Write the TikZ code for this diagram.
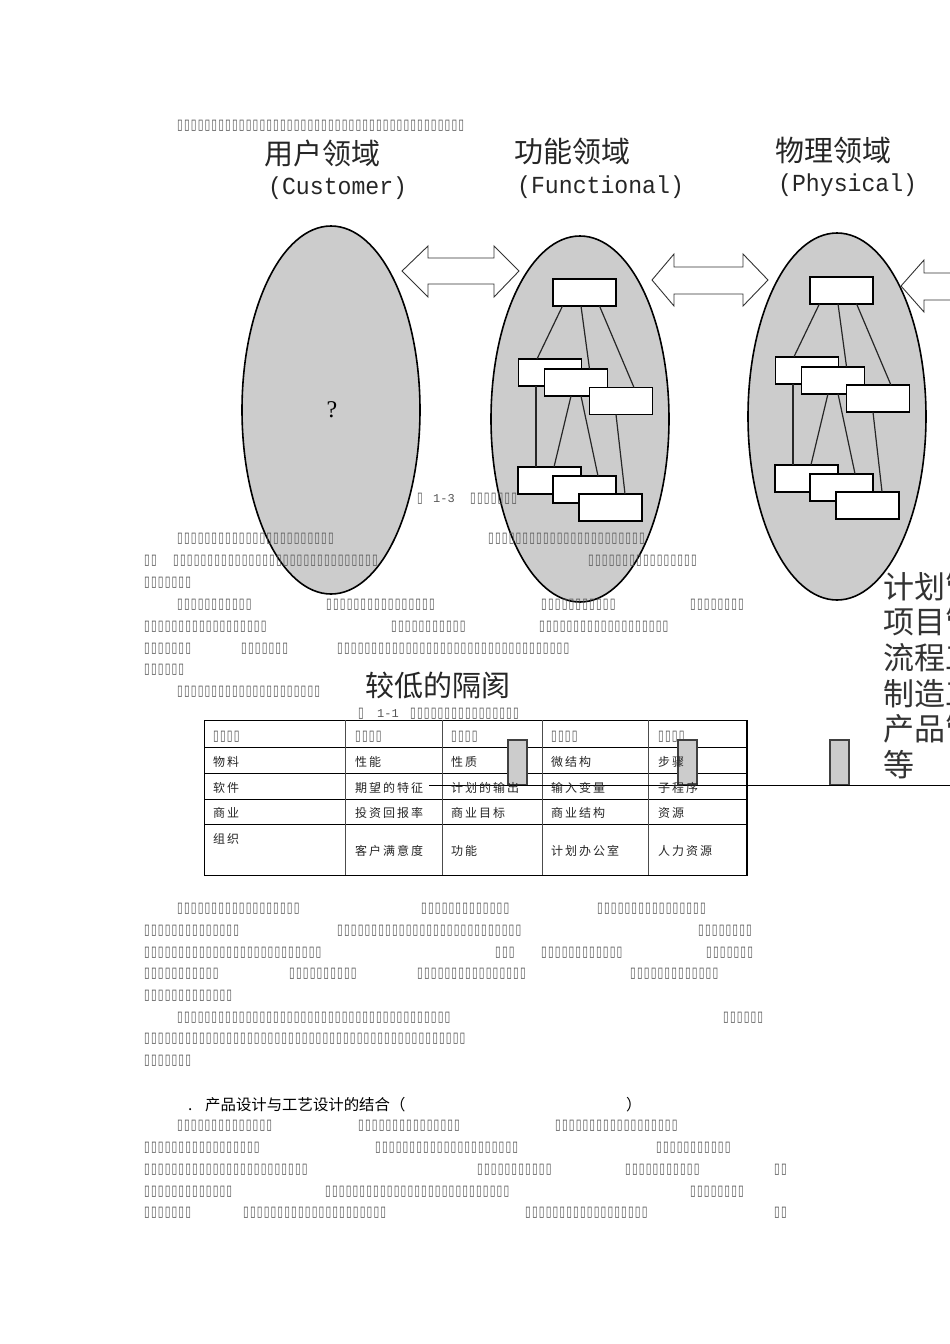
\documentclass[tikz,border=0pt]{standalone}
\usepackage{fontspec}
\setmainfont{Liberation Serif}
\newfontfamily\cjk{Noto Sans CJK SC}
\newfontfamily\cjkcell[LetterSpace=16.5]{Noto Sans CJK SC}
\newfontfamily\tofufont[FakeStretch=0.72,LetterSpace=7.7]{DejaVu Sans}
\newfontfamily\headmono[FakeStretch=0.945]{Liberation Mono}
\newfontfamily\capmono{Liberation Mono}
\def\tfrep#1{\ifnum#1>0 ▯\expandafter\tfrep\expandafter{\the\numexpr#1-1\expandafter}\fi}
\definecolor{ellgray}{HTML}{CCCCCC}
\definecolor{tofugray}{HTML}{555555}
\tikzset{
  x=1pt,y=-1pt,
  ellipsebody/.style={draw=black,fill=ellgray,line width=1.6pt},
  box/.style={draw=black,fill=white,line width=1.7pt,minimum width=63pt,minimum height=27pt,inner sep=0pt,outer sep=0pt,anchor=north west},
  link/.style={draw=black!85,line width=1.2pt},
  twoway/.style={draw=black!80,fill=white,line width=0.9pt,line join=miter},
  bar/.style={draw=black!75,fill=ellgray,line width=1.1pt},
  rule/.style={draw=black,line width=1pt},
  tofu/.style={font=\tofufont\fontsize{14.5}{14.5}\selectfont,text=tofugray,inner sep=0pt,anchor=west},
  heading/.style={font=\cjk\fontsize{29}{29}\selectfont,text=black!85,inner sep=0pt,anchor=west},
  headlatin/.style={font=\headmono\fontsize{24.5}{25}\selectfont,text=black!85,inner sep=0pt,anchor=west},
  cell/.style={font=\cjkcell\fontsize{12}{12}\selectfont,text=black!85,inner sep=0pt,anchor=west},
  sidetext/.style={font=\cjk\fontsize{31}{31}\selectfont,text=black!80,inner sep=0pt,anchor=west},
  capnum/.style={font=\capmono\fontsize{12}{12}\selectfont,text=tofugray,inner sep=0pt,anchor=west},
  sectitle/.style={font=\cjk\fontsize{15.4}{16}\selectfont,inner sep=0pt,anchor=base west},
}
\begin{document}
\begin{tikzpicture}
\useasboundingbox (0,0) rectangle (950,1344);
\fill[white] (0,0) rectangle (950,1344);
% ellipses
\draw[ellipsebody] (331,410) ellipse [x radius=89,y radius=184];
\draw[ellipsebody] (580,419) ellipse [x radius=89,y radius=183];
\draw[ellipsebody] (837,416.5) ellipse [x radius=89,y radius=183.5];
\node[inner sep=0pt,font=\fontsize{24}{24}\selectfont] (q) at (332,410) {?};
% block arrows
\draw[twoway] (402,271)--(428,246)--(428,258)--(494,258)--(494,246)--(519,271)--(494,297)--(494,284)--(428,284)--(428,297)--cycle;
\draw[twoway] (652,280)--(674,254)--(674,267)--(743,267)--(743,254)--(768,280)--(743,306)--(743,294)--(674,294)--(674,306)--cycle;
\draw[twoway] (960,273)--(924,273)--(924,260)--(901,286)--(924,312)--(924,300)--(960,300);
% boxes, ellipse 2 and 3
\foreach \pre/\dx/\dy in {f/0/0,p/257/-2.3}{
\begin{scope}[shift={(\dx,\dy)},name prefix=\pre]
\node[box] (top) at (553,279) {};
\node[box] (m1) at (518.5,359) {};
\node[box] (m2) at (544.5,369) {};
\node[box] (m3) at (589.5,387.5) {};
\node[box] (b1) at (518,467) {};
\node[box] (b2) at (553,476) {};
\node[box] (b3) at (579,494) {};
\draw[link] ([xshift=9.5pt]top.south west)--([xshift=18.5pt]m1.north west);
\draw[link] ([xshift=28pt]top.south west)--([xshift=45pt]m2.north west);
\draw[link] ([xshift=46.5pt]top.south west)--([xshift=44.5pt]m3.north west);
\draw[link] ([xshift=17.5pt]m1.south west)--([xshift=18pt]b1.north west);
\draw[link] ([xshift=26.5pt]m2.south west)--([xshift=36pt]b1.north west);
\draw[link] ([xshift=36.5pt]m2.south west)--([xshift=45pt]b2.north west);
\draw[link] ([xshift=26.5pt]m3.south west)--([xshift=46pt]b3.north west);
\end{scope}
}
% headings
\node[heading] (h1) at (264,153) {用户领域};
\node[headlatin] (h1a) at (268,188) {(Customer)};
\node[heading] (h2) at (514,152) {功能领域};
\node[headlatin] (h2a) at (517,187) {(Functional)};
\node[heading] (h3) at (775,151) {物理领域};
\node[headlatin] (h3a) at (778,185) {(Physical)};
% big overlapping text
\node[heading] (gap) at (365,685) {较低的隔阂};
\node[sidetext] (s1) at (883,587) {计划管};
\node[sidetext] (s2) at (883,622) {项目管};
\node[sidetext] (s3) at (883,658) {流程工};
\node[sidetext] (s4) at (883,694) {制造工};
\node[sidetext] (s5) at (883,729) {产品管};
\node[sidetext] (s6) at (883,765) {等};
% body text
\foreach \x/\y/\n [count=\i] in {177/126/42,
 177/539/23,488/539/23,144/561/2,173/561/30,588/561/16,144/583/7,
 177/605/11,326/605/16,541/605/11,690/605/8,
 144/627/18,391/627/11,539/627/19,
 144/649/7,241/649/7,337/649/34,144/670/6,177/692/21,
 417/499/1,470/499/7,358/714/1,410/714/16,
 213/737/4,355/737/4,451/737/4,551/737/4,658/737/4,
 177/909/18,421/909/13,597/909/16,
 144/931/14,337/931/27,698/931/8,
 144/953/26,495/953/3,541/953/12,706/953/7,
 144/974/11,289/974/10,417/974/16,630/974/13,
 144/996/13,177/1018/40,723/1018/6,144/1039/47,144/1061/7,
 177/1126/14,358/1126/15,555/1126/18,
 144/1148/17,375/1148/21,656/1148/11,
 144/1170/24,477/1170/11,625/1170/11,774/1170/2,
 144/1192/13,325/1192/27,690/1192/8,
 144/1213/7,243/1213/21,525/1213/18,774/1213/2}{
  \node[tofu] (t\i) at (\x,\y) {\tfrep{\n}};
}
\node[capnum] (c13) at (433,499) {1-3};
\node[capnum] (c11) at (377,714) {1-1};
% table
\draw[rule] (204,720) rectangle (747,875);
\draw[rule,line width=1.4pt] (747,720)--(747,875);
\foreach \yy in {747,773,799,824}{\draw[rule] (204,\yy)--(747,\yy);}
\foreach \xx in {345,442,542,648}{\draw[rule,draw=black!70] (\xx,720)--(\xx,875);}
% bars and long rule over the table
\foreach \xx in {508,678,830}{
  \draw[bar] (\xx,740) rectangle (\xx+19,785);
}
\draw[rule] (429,785)--(950,785);
% cells
\foreach \x/\y/\s [count=\i] in {
 213/762/物料,355/762/性能,451/762/性质,551/762/微结构,658/762/步骤,
 213/788/软件,355/788/期望的特征,451/788/计划的输出,551/788/输入变量,658/788/子程序,
 213/813/商业,355/813/投资回报率,451/813/商业目标,551/813/商业结构,658/813/资源,
 213/839/组织,355/851/客户满意度,451/851/功能,551/851/计划办公室,658/851/人力资源}{
  \node[cell] (cell\i) at (\x,\y) {\s};
}
% section title
\node[sectitle] (secdot) at (188,1110) {.};
\node[sectitle] (sec) at (205,1110) {产品设计与工艺设计的结合（};
\node[sectitle] (secr) at (626,1110) {）};
\end{tikzpicture}
\end{document}
